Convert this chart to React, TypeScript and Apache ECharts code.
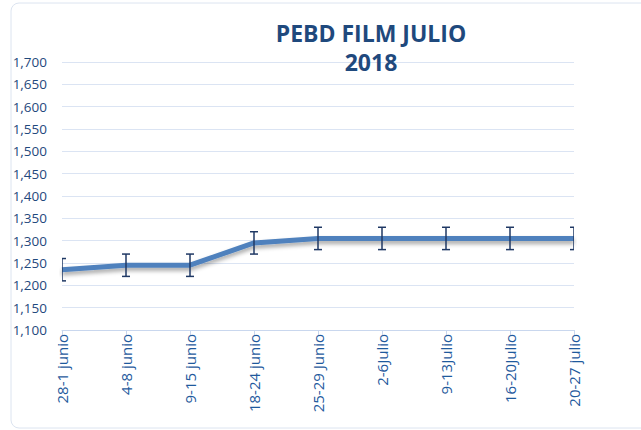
import React, { useEffect, useRef } from "react";
import * as echarts from "echarts";

const categories = [
  "28-1 junio",
  "4-8 junio",
  "9-15 junio",
  "18-24 junio",
  "25-29 Junio",
  "2-6Julio",
  "9-13Julio",
  "16-20Julio",
  "20-27 julio",
];
const prices = [1235, 1245, 1245, 1295, 1305, 1305, 1305, 1305, 1305];
const errors = [25, 25, 25, 25, 25, 25, 25, 25, 25];
const titleText = "PEBD FILM JULIO\n2018";

export default function App() {
  const ref = useRef<HTMLDivElement>(null);
  useEffect(() => {
    document.body.style.margin = "0";
    const chart = echarts.init(ref.current!, null, { renderer: "svg" });
    const errData = prices.map((v, i) => [i, v - errors[i], v + errors[i]]);
    chart.setOption({
      animation: false,
      backgroundColor: "#ffffff",
      textStyle: { fontFamily: "Open Sans" },
      title: {
        text: titleText,
        left: 366,
        textAlign: "center",
        top: 13,
        textStyle: {
          color: "#1f497d",
          fontSize: 23,
          fontWeight: "bold",
          fontFamily: "Open Sans",
          lineHeight: 29,
        },
      },
      graphic: [
        {
          type: "rect",
          shape: { x: 11, y: 3, width: 640, height: 425, r: 8 },
          style: { fill: "none", stroke: "#dce4f0", lineWidth: 1 },
          silent: true,
        },
      ],
      grid: { left: 62, right: 67, top: 62, bottom: 100 },
      xAxis: {
        type: "category",
        data: categories,
        boundaryGap: false,
        axisLine: { lineStyle: { color: "#c9d7ee", width: 1 } },
        axisTick: { show: true, length: 5, lineStyle: { color: "#c9d7ee" } },
        axisLabel: {
          rotate: 90,
          color: "#1f5a9d",
          fontSize: 15,
          margin: 4,
          interval: 0,
          fontFamily: "Open Sans",
        },
      },
      yAxis: {
        type: "value",
        min: 1100,
        max: 1700,
        interval: 50,
        axisLine: { show: false },
        axisTick: { show: false },
        splitLine: { lineStyle: { color: "#dbe4f3", width: 1 } },
        axisLabel: {
          color: "#1f497d",
          fontSize: 13.5,
          margin: 15,
          fontFamily: "Open Sans",
          formatter: (v: number) => v.toLocaleString("en-US"),
        },
      },
      series: [
        {
          type: "line",
          data: prices,
          symbol: "none",
          lineStyle: {
            color: "#4f81bd",
            width: 5,
            shadowColor: "rgba(0,0,0,0.35)",
            shadowBlur: 4,
            shadowOffsetY: 3,
          },
          z: 2,
        },
        {
          type: "custom",
          data: errData,
          clip: true,
          z: 3,
          renderItem: (params: any, api: any) => {
            const x = api.value(0);
            const lo = api.coord([x, api.value(1)]);
            const hi = api.coord([x, api.value(2)]);
            const w = 4;
            const style = { stroke: "#1f3864", lineWidth: 1.5 };
            return {
              type: "group",
              children: [
                { type: "line", shape: { x1: lo[0], y1: lo[1], x2: hi[0], y2: hi[1] }, style },
                { type: "line", shape: { x1: lo[0] - w, y1: lo[1], x2: lo[0] + w, y2: lo[1] }, style },
                { type: "line", shape: { x1: hi[0] - w, y1: hi[1], x2: hi[0] + w, y2: hi[1] }, style },
              ],
            };
          },
        },
      ],
    });
    return () => chart.dispose();
  }, []);
  return <div ref={ref} style={{ width: 641, height: 430 }} />;
}
